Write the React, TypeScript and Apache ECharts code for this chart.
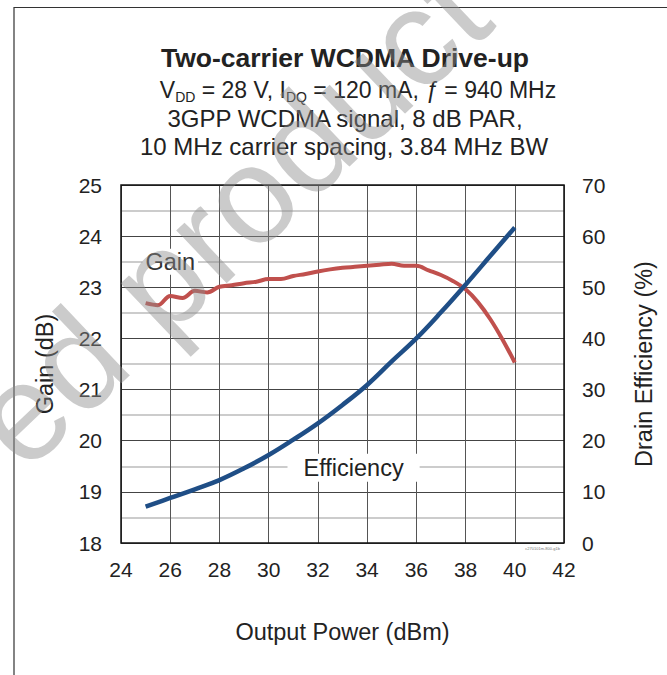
import React, { useEffect, useRef } from "react";
import * as echarts from "echarts";

const FONT = "'Liberation Sans', Arial, Helvetica, sans-serif";

const gainPower = [25, 25.5, 26, 26.5, 27, 27.5, 28, 28.5, 29, 29.5, 30, 30.5, 31, 31.5, 32, 32.5, 33, 33.5, 34, 34.5, 35, 35.5, 36, 36.5, 37, 37.5, 38, 38.5, 39, 39.5, 40];
const gainValues = [22.69, 22.65, 22.83, 22.79, 22.93, 22.9, 23.01, 23.04, 23.08, 23.11, 23.16, 23.16, 23.22, 23.26, 23.31, 23.35, 23.38, 23.4, 23.42, 23.44, 23.46, 23.42, 23.42, 23.33, 23.24, 23.12, 22.96, 22.71, 22.38, 21.98, 21.53];

const effPower = [25, 26, 27, 28, 29, 30, 31, 32, 33, 34, 35, 36, 37, 38, 39, 40];
const effValues = [7.1, 8.8, 10.5, 12.3, 14.6, 17.2, 20.2, 23.4, 27.0, 30.9, 35.5, 40.0, 45.1, 50.5, 56.1, 61.7];

const xTicks = { min: 24, max: 42, interval: 2 };
const gainTicks = { min: 18, max: 25, interval: 1 };
const effTicks = { min: 0, max: 70, interval: 10 };

const titleText = "Two-carrier WCDMA Drive-up";
const subtitleLine2 = "3GPP WCDMA signal, 8 dB PAR,";
const subtitleLine3 = "10 MHz carrier spacing, 3.84 MHz BW";

export default function App() {
  const ref = useRef<HTMLDivElement>(null);

  useEffect(() => {
    if (!ref.current) return;
    const chart = echarts.init(ref.current, null, { renderer: "svg" });

    const option: any = {
      animation: false,
      backgroundColor: "#ffffff",
      grid: {
        left: 121,
        top: 185,
        width: 443,
        height: 358,
        show: true,
        borderColor: "#111",
        borderWidth: 1.5,
        backgroundColor: "transparent",
        z: 3,
      },
      xAxis: {
        type: "value",
        min: xTicks.min,
        max: xTicks.max,
        interval: xTicks.interval,
        name: "Output Power (dBm)",
        nameLocation: "middle",
        nameGap: 77,
        nameTextStyle: { fontFamily: FONT, fontSize: 23.5, color: "#222" },
        axisLine: { show: false },
        axisTick: { show: false },
        axisLabel: { fontFamily: FONT, fontSize: 21, color: "#222", margin: 16 },
        splitLine: { show: true, lineStyle: { color: "#555", width: 1 } },
      },
      yAxis: [
        {
          type: "value",
          min: gainTicks.min,
          max: gainTicks.max,
          interval: gainTicks.interval,
          name: "Gain (dB)",
          nameLocation: "middle",
          nameGap: 64,
          nameTextStyle: { fontFamily: FONT, fontSize: 23.5, color: "#222" },
          axisLine: { show: false },
          axisTick: { show: false },
          axisLabel: { fontFamily: FONT, fontSize: 21, color: "#222", margin: 19 },
          splitLine: { show: true, lineStyle: { color: "#444", width: 1 } },
          minorTick: { show: false, splitNumber: 2 },
          minorSplitLine: { show: true, lineStyle: { color: "#bbb", width: 1.5 } },
        },
        {
          type: "value",
          min: effTicks.min,
          max: effTicks.max,
          interval: effTicks.interval,
          name: "Drain Efficiency (%)",
          nameLocation: "middle",
          nameGap: 68,
          nameTextStyle: { fontFamily: FONT, fontSize: 23.5, color: "#222" },
          axisLine: { show: false },
          axisTick: { show: false },
          axisLabel: { fontFamily: FONT, fontSize: 21, color: "#222", margin: 18 },
          splitLine: { show: false },
        },
      ],
      series: [
        {
          name: "Gain",
          type: "line",
          yAxisIndex: 0,
          data: gainPower.map((p, i) => [p, gainValues[i]]),
          showSymbol: false,
          smooth: 0.35,
          lineStyle: { color: "#c0504d", width: 4 },
          z: 5,
        },
        {
          name: "Efficiency",
          type: "line",
          yAxisIndex: 1,
          data: effPower.map((p, i) => [p, effValues[i]]),
          showSymbol: false,
          smooth: 0.4,
          lineStyle: { color: "#1f4e86", width: 4.5 },
          z: 6,
        },
      ],
    };
    chart.setOption(option);

    const gainPos = chart.convertToPixel({ xAxisIndex: 0, yAxisIndex: 0 }, [26, 23.5]);
    const effPos = chart.convertToPixel({ xAxisIndex: 0, yAxisIndex: 1 }, [33.45, 14.7]);

    const sub = "{n|V}{s|DD}{n| = 28 V, I}{s|DQ}{n| = 120 mA, }{i|ƒ}{n| = 940 MHz}";

    chart.setOption({
      graphic: [
        {
          type: "polyline",
          shape: { points: [[14, 675], [14, 7.5], [667, 7.5]] },
          style: { stroke: "#333", lineWidth: 1.2, fill: null },
          z: 1,
        },
        {
          type: "text",
          x: 345,
          y: 58,
          style: {
            text: titleText,
            font: `bold 26.5px ${FONT}`,
            fill: "#222",
            align: "center",
            verticalAlign: "middle",
          },
          z: 10,
        },
        {
          type: "text",
          x: 358,
          y: 90,
          style: {
            text: sub,
            align: "center",
            verticalAlign: "middle",
            rich: {
              n: { fontFamily: FONT, fontSize: 23, fill: "#222", lineHeight: 28, verticalAlign: "middle" },
              i: { fontFamily: FONT, fontSize: 23, fill: "#222", lineHeight: 28, fontStyle: "italic", verticalAlign: "middle" },
              s: { fontFamily: FONT, fontSize: 14, fill: "#222", lineHeight: 13, verticalAlign: "bottom" },
            },
          },
          z: 10,
        },
        {
          type: "text",
          x: 345,
          y: 118,
          style: {
            text: subtitleLine2,
            font: `24px ${FONT}`,
            fill: "#222",
            align: "center",
            verticalAlign: "middle",
          },
          z: 10,
        },
        {
          type: "text",
          x: 344,
          y: 146,
          style: {
            text: subtitleLine3,
            font: `24px ${FONT}`,
            fill: "#222",
            align: "center",
            verticalAlign: "middle",
          },
          z: 10,
        },
        {
          type: "text",
          x: gainPos[0],
          y: gainPos[1],
          style: {
            text: "Gain",
            font: `23.5px ${FONT}`,
            fill: "#333",
            align: "center",
            verticalAlign: "middle",
            backgroundColor: "#fff",
            padding: [1, 3],
          },
          z: 8,
        },
        {
          type: "text",
          x: effPos[0],
          y: effPos[1],
          style: {
            text: "Efficiency",
            font: `23.5px ${FONT}`,
            fill: "#222",
            align: "center",
            verticalAlign: "middle",
            backgroundColor: "#fff",
            padding: [2, 16],
          },
          z: 8,
        },
        {
          type: "text",
          x: 560,
          y: 548,
          style: {
            text: "c270101m-800-g1b",
            font: `4px ${FONT}`,
            fill: "#777",
            align: "right",
            verticalAlign: "middle",
          },
          z: 10,
        },
        {
          type: "text",
          x: -8,
          y: 440,
          rotation: 0.76,
          style: {
            text: "ed product",
            font: `138px ${FONT}`,
            fill: "rgba(140,140,140,0.45)",
            align: "left",
            verticalAlign: "middle",
          },
          z: 100,
        },
      ],
    });

    return () => chart.dispose();
  }, []);

  return (
    <div
      ref={ref}
      style={{ position: "fixed", left: 0, top: 0, width: 667, height: 675, background: "#fff" }}
    />
  );
}
